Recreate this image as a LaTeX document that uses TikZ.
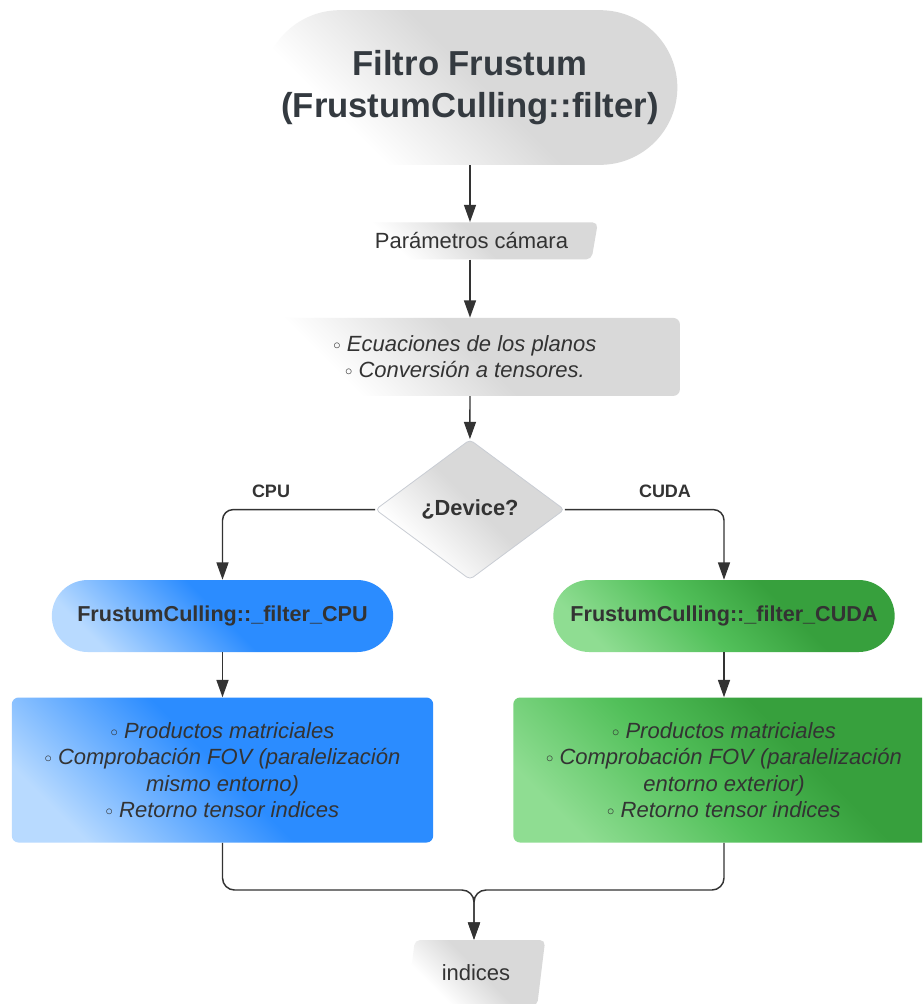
\documentclass[tikz,border=0pt]{standalone}
\usepackage{fontspec}
\setmainfont{Liberation Sans}
\usetikzlibrary{shapes.geometric, arrows.meta, positioning, calc}
\definecolor{inkdark}{HTML}{333333}
\definecolor{titleink}{HTML}{343A40}
\definecolor{shgray}{HTML}{D9D9D9}
\definecolor{bluemain}{HTML}{2B8CFF}
\definecolor{bluelt}{HTML}{B8DAFF}
\definecolor{greenlt}{HTML}{8FDD92}
\definecolor{greenmid}{HTML}{52C05A}
\definecolor{greendk}{HTML}{37A03D}
\definecolor{diaedge}{HTML}{C9CDD4}
\pgfdeclarehorizontalshading{grayfade}{100bp}{color(0bp)=(white); color(30bp)=(white); color(52bp)=(shgray); color(100bp)=(shgray)}
\pgfdeclarehorizontalshading{bluefade}{100bp}{color(0bp)=(bluelt); color(24bp)=(bluelt); color(50bp)=(bluemain); color(100bp)=(bluemain)}
\pgfdeclarehorizontalshading{greenfade}{100bp}{color(0bp)=(greenlt); color(24bp)=(greenlt); color(45bp)=(greenmid); color(62bp)=(greendk); color(100bp)=(greendk)}
\newcommand{\bulletmark}{\raisebox{1.5pt}{\upshape\fontsize{11}{0}\selectfont$\circ$}\ }

\begin{document}
\begin{tikzpicture}[
  x=0.75pt, y=-0.75pt,
  every node/.style={text=inkdark},
  txt/.style={align=center, font=\fontsize{16.5}{19.8}\selectfont},
  term/.style={rectangle, rounded corners=58pt, shade, shading=grayfade, shading angle=45,
               minimum width=311pt, minimum height=116pt, align=center,
               font=\bfseries\fontsize{26}{31.2}\selectfont, text=titleink},
  io/.style={txt, trapezium, trapezium stretches=true, rounded corners=4pt,
             shade, shading=grayfade, shading angle=45},
  proc/.style={txt, rectangle, rounded corners=5pt, font=\itshape\fontsize{16.5}{19.8}\selectfont},
  decision/.style={diamond, minimum width=141.75pt, minimum height=105pt, inner sep=0pt,
                   rounded corners=3pt, shade, shading=grayfade, shading angle=45,
                   draw=diaedge, line width=0.6pt, font=\bfseries\fontsize{16.4}{19}\selectfont},
  fnbox/.style={rectangle, rounded corners=27pt, minimum width=256pt, minimum height=54pt,
                shade, shading angle=45, font=\bfseries\fontsize{16.2}{19}\selectfont},
  lbl/.style={font=\bfseries\fontsize{13.5}{16}\selectfont},
  arr/.style={-{Triangle[length=13pt, width=9pt]}, line width=1.1pt, draw=inkdark}]
\clip (0,0) rectangle (922,1004);
\fill[white] (0,0) rectangle (922,1004);
% main column
\node[term] (title) at (470, 87.5) {Filtro Frustum\\(FrustumCulling::filter)};
\node[io, below=42.75pt of title, xshift=1.1pt, trapezium left angle=78, trapezium right angle=102,
      minimum width=190pt, minimum height=27.75pt] (cam) {Parámetros cámara};
\node[proc, shade, shading=grayfade, shading angle=45, below=43.5pt of cam, xshift=-4.9pt,
      minimum width=322.5pt, minimum height=58.5pt] (planes)
  {\bulletmark Ecuaciones de los planos\\ \bulletmark Conversión a tensores.};
\node[decision, below=32.25pt of planes, xshift=3.75pt] (dev) {¿Device?};
% branches
\node[fnbox, shading=bluefade] (cpu) at (222.5, 616) {FrustumCulling::\_filter\_CPU};
\node[fnbox, shading=greenfade] (cuda) at (724, 616) {FrustumCulling::\_filter\_CUDA};
\node[proc, shade, shading=bluefade, shading angle=45, below=33.75pt of cpu,
      minimum width=316pt, minimum height=108.75pt] (cpuops)
  {\bulletmark Productos matriciales\\ \bulletmark Comprobación FOV (paralelización\\ mismo entorno)\\ \bulletmark Retorno tensor indices};
\node[proc, shade, shading=greenfade, shading angle=45, below=33.75pt of cuda,
      minimum width=316pt, minimum height=108.75pt] (cudaops)
  {\bulletmark Productos matriciales\\ \bulletmark Comprobación FOV (paralelización\\ entorno exterior)\\ \bulletmark Retorno tensor indices};
\node[io, trapezium left angle=78.5, trapezium right angle=101.5,
      minimum width=104pt, minimum height=49.5pt] (out) at (476, 973) {indices};
\node[lbl] (lcpu) at (271, 491) {CPU};
\node[lbl] (lcuda) at (665, 491) {CUDA};
\coordinate (merge) at (474, 890);
% connectors
\draw[arr] (title) -- (title.south |- cam.north);
\draw[arr] (title.south |- cam.south) -- (title.south |- planes.north);
\draw[arr] (title.south |- planes.south) -- (dev.north);
\draw[arr, rounded corners=8pt] (dev.west) -| (cpu.north);
\draw[arr, rounded corners=8pt] (dev.east) -| (cuda.north);
\draw[arr] (cpu) -- (cpuops);
\draw[arr] (cuda) -- (cudaops);
\draw[arr, rounded corners=9pt] (cpuops.south) |- (merge) -- (merge |- out.north);
\draw[arr, rounded corners=9pt] (cudaops.south) |- (merge) -- (merge |- out.north);
\end{tikzpicture}
\end{document}
